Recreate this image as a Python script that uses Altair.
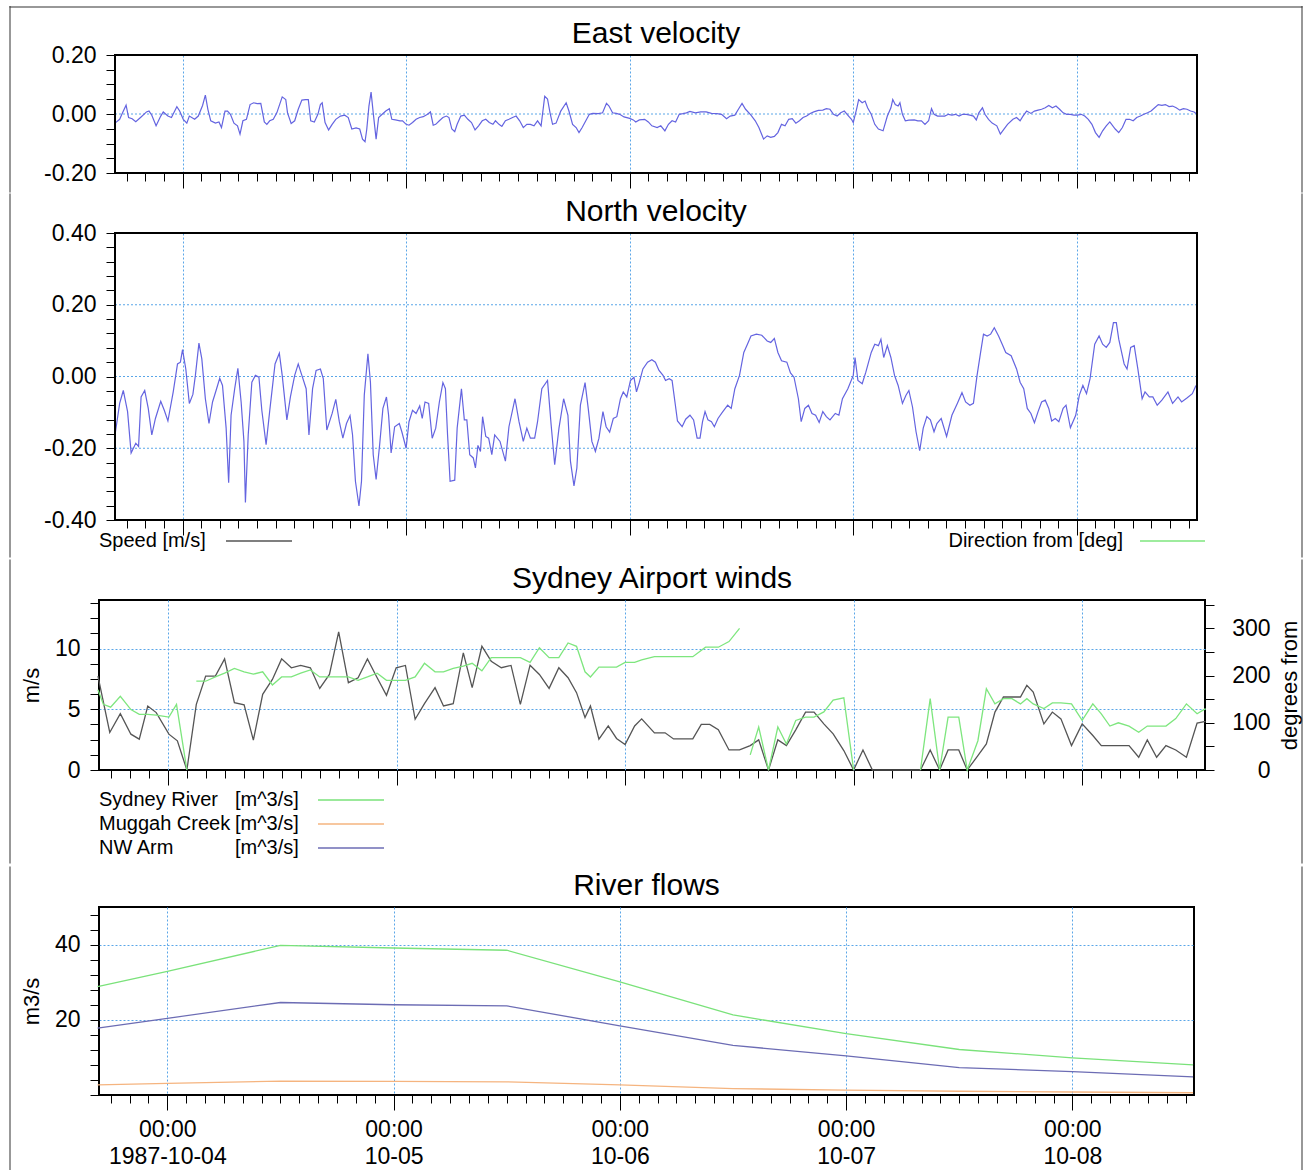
import json
import altair as alt
import numpy as np
import pandas as pd

FONT = "Liberation Sans"

# ---------------- data (hours after 1987-10-04 00:00 UTC) ----------------
east_h = [-7.25,-6.75,-6.44,-6.06,-5.79,-5.41,-5.02,-4.45,-3.87,-3.60,
          -3.30,-2.84,-2.34,-2.07,-1.57,-1.19,-0.61,-0.31,0.08,0.46,
          0.73,1.30,1.69,2.15,2.45,2.72,3.03,3.53,3.91,4.18,
          4.56,4.83,5.14,5.52,5.90,6.17,6.48,6.86,7.25,7.63,
          8.01,8.40,8.78,9.05,9.36,9.74,10.12,10.70,11.08,11.27,
          11.66,12.04,12.42,12.81,13.19,13.50,13.76,14.15,14.53,14.80,
          14.99,15.30,15.68,16.06,16.45,16.95,17.41,17.79,18.17,18.63,
          19.02,19.32,19.59,19.78,20.01,20.24,20.47,20.78,21.05,21.43,
          21.82,22.20,22.47,22.85,23.35,23.62,24.00,24.31,24.69,25.07,
          25.46,25.84,26.30,26.61,26.91,27.18,27.57,27.95,28.33,28.60,
          28.91,29.22,29.48,29.87,30.25,30.63,31.02,31.40,31.78,32.17,
          32.55,32.93,33.32,33.59,33.97,34.28,34.66,35.04,35.43,35.81,
          36.19,36.58,36.96,37.34,37.73,38.11,38.49,38.88,39.18,39.45,
          39.72,40.10,40.60,41.18,41.48,41.87,42.25,42.56,42.90,43.29,
          43.67,44.05,44.63,45.09,45.51,45.78,46.16,46.55,46.93,47.39,
          48.00,48.39,48.65,49.04,49.61,50.00,50.38,50.95,51.34,
          51.78,52.16,52.55,52.93,53.32,53.70,54.09,54.47,55.05,55.63,
          56.21,56.78,57.36,57.86,58.40,58.79,59.29,59.67,60.06,60.44,
          61.02,61.48,61.87,62.37,62.76,63.14,63.53,63.91,64.30,64.68,
          65.07,65.45,65.84,66.22,66.61,66.99,67.38,67.76,68.26,68.73,
          69.11,69.50,69.88,70.27,70.65,71.04,71.50,71.81,72.00,72.39,
          72.58,72.96,73.27,73.54,73.93,74.31,74.70,75.20,75.66,76.04,
          76.24,76.51,76.82,77.01,77.28,77.59,77.97,78.55,78.93,79.32,
          79.70,80.09,80.40,80.67,81.05,81.44,81.82,82.21,82.59,82.98,
          83.36,83.75,84.13,84.52,84.90,85.21,85.48,85.87,86.14,86.52,
          86.91,87.41,87.79,88.18,88.56,89.14,89.53,89.91,90.22,90.61,
          91.07,91.45,91.84,92.22,92.61,92.99,93.38,93.76,94.15,94.53,
          94.92,95.30,95.69,96.08,96.46,96.85,97.23,97.62,98.00,98.39,
          98.77,99.16,99.54,100.12,100.50,100.89,101.28,101.66,102.05,102.43,
          102.82,103.20,103.59,103.97,104.36,104.74,105.13,105.51,105.90,106.28,
          106.67,107.05,107.44,107.82,108.21,108.59,108.79]
east_v = [-0.031,-0.018,0.004,0.030,-0.012,-0.016,-0.026,-0.010,0.007,0.010,
          -0.004,-0.040,-0.007,0.007,-0.007,-0.012,0.025,0.010,-0.018,-0.031,
          -0.007,-0.018,-0.007,0.029,0.064,0.016,-0.023,-0.031,-0.027,-0.046,
          0.010,0.010,-0.001,-0.031,-0.040,-0.068,-0.023,-0.018,0.032,0.038,
          0.035,0.036,-0.027,-0.035,-0.023,-0.018,0.004,0.058,0.049,0.004,
          -0.032,-0.023,0.016,0.047,0.049,0.049,-0.023,-0.027,-0.001,0.032,
          0.038,-0.029,-0.054,-0.035,-0.018,-0.007,-0.004,-0.012,-0.051,-0.047,
          -0.051,-0.085,-0.094,-0.051,0.027,0.074,0.004,-0.085,-0.012,-0.001,
          0.010,0.018,-0.018,-0.020,-0.023,-0.023,-0.035,-0.038,-0.029,-0.018,
          -0.012,-0.009,-0.001,0.007,-0.038,-0.035,-0.023,-0.012,-0.007,-0.012,
          -0.051,-0.060,-0.035,-0.007,-0.004,-0.018,-0.029,-0.054,-0.040,-0.023,
          -0.018,-0.029,-0.035,-0.023,-0.035,-0.042,-0.023,-0.018,-0.012,-0.007,
          -0.023,-0.046,-0.035,-0.035,-0.040,-0.023,-0.040,0.060,0.051,0.004,
          -0.035,-0.031,0.010,0.038,0.010,-0.035,-0.046,-0.063,-0.046,-0.023,
          -0.001,0.002,0.001,0.004,0.036,0.027,0.004,0.002,-0.001,-0.010,
          -0.015,-0.020,-0.027,-0.020,-0.018,-0.027,-0.040,-0.046,-0.040,
          -0.057,-0.035,-0.023,-0.027,-0.001,0.001,0.004,0.009,0.004,0.007,
          0.007,0.002,0.001,-0.001,-0.016,-0.007,-0.004,0.016,0.036,0.016,
          -0.004,-0.023,-0.046,-0.085,-0.074,-0.079,-0.076,-0.063,-0.035,-0.040,
          -0.018,-0.016,-0.031,-0.023,-0.012,-0.007,0.002,0.007,0.012,0.013,
          0.018,0.016,-0.001,-0.007,0.004,0.010,-0.007,-0.018,-0.029,0.021,
          0.049,0.038,0.044,0.021,-0.001,-0.035,-0.051,-0.057,-0.007,0.021,
          0.049,0.032,0.027,0.038,-0.001,-0.023,-0.021,-0.020,-0.023,-0.023,
          -0.035,-0.023,0.018,-0.001,-0.007,-0.007,-0.007,-0.001,-0.004,-0.001,
          -0.007,-0.001,-0.001,-0.004,-0.007,-0.020,0.004,0.021,-0.001,-0.018,
          -0.031,-0.040,-0.068,-0.051,-0.035,-0.018,-0.012,-0.023,-0.007,0.010,
          0.002,0.010,0.013,0.016,0.021,0.029,0.021,0.027,0.016,0.004,
          -0.001,-0.001,-0.004,-0.004,-0.001,-0.007,-0.018,-0.035,-0.063,-0.079,
          -0.057,-0.040,-0.027,-0.051,-0.063,-0.046,-0.018,-0.018,-0.023,-0.012,
          -0.007,-0.001,0.004,0.010,0.021,0.032,0.029,0.032,0.025,0.027,
          0.021,0.013,0.018,0.016,0.010,0.007,0.002]

north_h = [-7.25,-6.75,-6.36,-5.90,-5.52,-5.02,-4.72,-4.45,-4.06,-3.68,
           -3.30,-2.91,-2.34,-1.96,-1.57,-1.00,-0.54,-0.23,0.00,0.35,
           0.73,1.11,1.38,1.76,2.07,2.45,2.84,3.22,3.60,3.99,
           4.29,4.68,4.95,5.21,5.60,5.94,6.29,6.59,6.75,7.05,
           7.44,7.82,8.20,8.51,8.97,9.35,9.93,10.39,10.70,11.20,
           11.58,12.04,12.42,12.81,13.27,13.57,13.96,14.34,14.80,15.11,
           15.49,16.06,16.45,16.83,17.21,17.60,17.98,18.25,18.56,18.94,
           19.21,19.51,19.90,20.17,20.47,20.78,21.16,21.51,21.89,22.12,
           22.39,22.77,23.27,23.54,24.00,24.31,24.69,25.07,25.46,25.73,
           26.03,26.42,26.80,27.18,27.57,27.95,28.22,28.45,28.72,29.22,
           29.48,29.94,30.25,30.52,30.83,31.21,31.44,31.71,31.98,32.21,
           32.55,32.86,33.20,33.51,34.08,34.66,35.04,35.69,36.12,36.58,
           36.96,37.34,37.80,38.11,38.57,39.18,39.57,39.95,40.41,40.91,
           41.37,41.64,42.02,42.33,42.71,43.21,43.55,43.94,44.32,44.70,
           45.13,45.47,45.85,46.24,46.62,47.01,47.31,47.69,48.08,48.46,
           48.73,49.04,49.42,49.92,50.38,50.76,51.15,
           51.58,51.85,52.24,52.55,52.86,53.13,53.63,54.01,54.47,54.86,
           55.24,55.55,55.82,56.09,56.40,56.78,57.09,57.48,57.94,58.52,
           58.90,59.29,59.79,60.25,60.64,61.02,61.60,62.18,62.76,63.14,
           63.53,63.91,64.30,64.87,65.26,65.64,66.11,66.41,66.80,67.19,
           67.57,67.96,68.34,68.73,69.11,69.50,70.07,70.46,70.84,71.42,
           72.00,72.19,72.50,72.96,73.35,73.93,74.31,74.70,74.97,75.27,
           75.66,76.04,76.43,76.82,77.28,77.66,77.97,78.36,78.74,79.13,
           79.51,79.90,80.28,80.67,80.98,81.44,82.02,82.59,83.17,83.67,
           84.06,84.52,84.90,85.29,85.67,85.98,86.37,86.75,87.14,87.60,
           87.99,88.37,88.95,89.53,89.91,90.30,90.68,91.07,91.45,91.84,
           92.22,92.61,92.99,93.30,93.69,94.07,94.53,94.84,95.31,95.88,
           96.27,96.65,97.04,97.42,97.92,98.39,98.77,99.16,99.54,99.93,
           100.24,100.50,101.08,101.39,101.78,102.16,102.55,103.01,103.32,103.78,
           104.16,104.63,105.13,105.78,106.28,106.86,107.25,107.82,108.40,108.79]
north_v = [-0.163,-0.075,-0.039,-0.098,-0.213,-0.186,-0.195,-0.057,-0.039,-0.089,
           -0.163,-0.117,-0.069,-0.094,-0.124,-0.043,0.035,0.040,0.075,0.021,
           -0.075,-0.050,0.003,0.093,0.049,-0.062,-0.131,-0.071,-0.039,-0.005,
           -0.025,-0.144,-0.296,-0.108,-0.034,0.023,-0.071,-0.181,-0.351,-0.163,
           -0.016,0.003,-0.002,-0.094,-0.190,-0.098,0.035,0.065,0.003,-0.121,
           -0.057,0.003,0.035,0.003,-0.034,-0.163,-0.034,0.017,0.021,-0.006,
           -0.149,-0.103,-0.064,-0.126,-0.172,-0.131,-0.109,-0.163,-0.292,-0.361,
           -0.292,-0.052,0.063,-0.016,-0.218,-0.287,-0.190,-0.089,-0.057,-0.108,
           -0.213,-0.140,-0.131,-0.154,-0.200,-0.126,-0.094,-0.103,-0.082,-0.117,
           -0.071,-0.075,-0.172,-0.144,-0.071,-0.017,-0.034,-0.163,-0.292,-0.289,
           -0.144,-0.034,-0.121,-0.121,-0.218,-0.227,-0.255,-0.192,-0.209,-0.112,
           -0.167,-0.172,-0.218,-0.163,-0.181,-0.236,-0.140,-0.062,-0.126,-0.181,
           -0.144,-0.172,-0.172,-0.126,-0.034,-0.011,-0.135,-0.246,-0.144,-0.062,
           -0.108,-0.236,-0.305,-0.255,-0.080,-0.017,-0.089,-0.181,-0.209,-0.172,
           -0.098,-0.140,-0.155,-0.117,-0.112,-0.062,-0.043,-0.057,-0.011,-0.002,
           -0.043,-0.016,0.021,0.040,0.047,0.040,0.017,
           0.003,-0.011,-0.006,-0.011,-0.071,-0.124,-0.140,-0.119,-0.108,-0.121,
           -0.172,-0.172,-0.126,-0.098,-0.121,-0.126,-0.140,-0.117,-0.100,-0.080,
           -0.089,-0.034,0.003,0.067,0.090,0.113,0.118,0.115,0.099,0.095,
           0.106,0.067,0.044,0.040,0.010,-0.002,-0.062,-0.126,-0.089,-0.080,
           -0.103,-0.108,-0.128,-0.098,-0.112,-0.121,-0.103,-0.108,-0.062,-0.034,
           0.003,0.053,-0.011,-0.020,0.012,0.067,0.090,0.086,0.104,0.053,
           0.086,0.053,0.003,-0.025,-0.075,-0.052,-0.039,-0.085,-0.154,-0.207,
           -0.144,-0.112,-0.121,-0.154,-0.131,-0.117,-0.167,-0.108,-0.075,-0.045,
           -0.071,-0.080,-0.075,0.003,0.067,0.118,0.113,0.118,0.136,0.113,
           0.090,0.067,0.058,0.021,-0.016,-0.034,-0.089,-0.103,-0.129,-0.098,
           -0.071,-0.066,-0.089,-0.124,-0.117,-0.126,-0.089,-0.080,-0.143,-0.108,
           -0.052,-0.025,-0.048,-0.006,0.090,0.113,0.090,0.081,0.095,0.150,
           0.150,0.104,0.035,0.021,0.081,0.086,0.021,-0.062,-0.043,-0.057,
           -0.057,-0.080,-0.066,-0.043,-0.075,-0.057,-0.071,-0.060,-0.048,-0.025]

speed_h = [-7.36,-6.12,-5.01,-3.90,-3.02,-2.13,-1.24,0.09,0.98,1.98,
           2.97,3.95,4.97,5.94,6.97,7.99,8.96,9.94,10.96,11.93,
           12.95,13.93,14.95,15.93,16.95,17.92,18.94,19.96,20.94,21.96,
           22.94,23.96,24.93,25.95,26.93,28.04,28.93,29.95,31.01,31.94,
           32.96,33.94,35.00,36.02,37.00,38.02,39.00,40.02,41.04,42.01,
           42.90,43.79,44.36,45.25,46.23,47.10,48.00,49.00,49.74,51.08,
           52.20,53.09,53.99,55.11,56.00,56.89,57.79,58.91,60.02,61.14,
           62.03,63.06,64.04,64.94,65.92,66.95,67.84,68.87,69.85,70.97,
           72.00,72.98,73.97,75.0,76.0,77.0,78.0,79.02,80.04,81.03,
           81.92,83.04,83.93,85.05,85.94,86.84,87.73,88.63,89.52,90.19,
           90.86,91.98,92.87,93.77,94.88,96.00,97.12,98.01,98.91,99.80,
           100.92,101.94,102.84,103.82,104.80,105.83,106.95,108.07,108.96]
speed_v = [7.73,3.09,4.64,2.95,2.54,5.27,4.73,2.95,2.40,0.00,
           5.41,7.73,7.73,9.15,5.55,5.36,2.46,6.23,7.46,9.15,
           8.42,8.61,8.42,6.72,7.87,11.37,7.19,7.60,9.15,7.60,
           6.15,8.42,8.61,4.18,5.46,6.78,5.27,5.46,9.64,6.78,
           10.19,8.96,8.42,8.61,5.41,8.63,7.87,6.72,8.42,7.60,
           6.37,4.32,5.27,2.54,3.63,2.60,2.10,3.63,4.21,3.06,
           3.06,2.56,2.56,2.56,3.75,3.75,3.31,1.65,1.65,2.01,
           2.48,0.00,2.48,2.01,3.31,4.77,4.77,3.80,2.98,1.60,
           0.00,1.65,0.00,0.0,0.0,0.0,0.0,0.00,1.65,0.00,
           1.65,1.65,0.00,1.18,2.15,4.77,6.01,6.01,6.01,6.97,
           6.42,3.80,4.77,4.21,2.01,3.80,2.84,2.01,2.01,2.01,
           2.01,1.05,2.48,1.05,2.01,1.65,1.05,3.86,4.00]

# wind direction, in separate unbroken segments
dir_h = [
    [-7.36,-6.79,-6.03,-5.01,-3.90,-3.02,-2.13,-1.24,0.09,0.89,1.98],
    [2.97,3.95,4.97,5.94,6.97,7.99,8.96,9.94,10.96,11.93,
     12.95,13.93,14.95,15.93,16.95,17.92,18.94,19.96,20.94,21.96,
     22.94,23.96,24.93,25.95,26.93,28.04,28.93,29.95,31.01,31.94,
     32.96,33.94,35.00,36.02,37.00,38.02,39.00,40.02,41.04,42.01,
     42.90,43.79,44.36,45.25,46.23,47.10,48.00,49.00,49.74,51.08,
     52.42,53.77,55.11,56.45,57.79,58.91,60.02],
    [61.14,62.03,63.06,64.04,64.94,65.92,66.95,67.84,68.87,69.85,70.97,72.00],
    [79.02,80.04,81.03,81.92,83.04,83.93,85.05,85.94,86.84,87.73,
     88.63,89.52,90.19,90.86,91.98,92.87,93.77,94.88,96.00,97.12,
     98.01,98.91,99.80,100.92,101.94,102.84,103.82,104.80,105.83,106.95,
     108.07,108.96],
]
dir_v = [
    [170,139,133,156,128,118,118,116,112,139,0],
    [188,188,197,205,215,208,203,208,180,197,
     197,205,212,197,197,197,197,190,197,205,
     190,190,190,197,226,208,208,215,220,226,
     210,238,238,238,238,228,259,238,238,269,
     262,208,197,218,218,218,228,228,233,240,
     240,240,240,260,260,272,300],
    [32,91,0,91,55,105,112,112,123,148,153,0],
    [0,151,0,112,112,0,62,172,140,151,
     151,140,151,140,130,142,142,140,105,140,
     119,93,100,93,80,93,93,93,109,140,
     119,130],
]

flow_h = [-7.4, 0, 12, 24, 36, 48, 60, 72, 84, 96, 108.8]
flow_names = ["Sydney River", "Muggah Creek", "NW Arm"]
flow_values = [
    [28.8, 32.9, 39.8, 39.1, 38.5, 30.1, 21.3, 16.3, 12.1, 9.9, 8.0],
    [2.7, 3.1, 3.7, 3.6, 3.5, 2.7, 1.7, 1.3, 1.0, 0.8, 0.6],
    [17.8, 20.4, 24.6, 24.0, 23.7, 18.4, 13.2, 10.4, 7.3, 6.2, 4.8],
]
flow_unit = "[m^3/s]"

titles = ["East velocity", "North velocity", "Sydney Airport winds", "River flows"]
speed_label = "Speed [m/s]"
dir_label = "Direction from [deg]"
hour_label = "00:00"
day_labels = ["1987-10-04", "10-05", "10-06", "10-07", "10-08"]

# ---------------- style ----------------
VEL_COLOR = "#6464e0"
SPEED_COLOR = "#555555"
DIR_COLOR = "#7ee67e"
FLOW_COLORS = ["#7ae27a", "#f5b47f", "#6c6cb4"]
GRID_COLOR = "#5aa6e8"
BORDER_COLOR = "#333333"
TITLE_SIZE = 30
LEGEND_SIZE = 20

T0 = pd.Timestamp("1987-10-04T00:00:00", tz="UTC")


def stamp(hours):
    return [(T0 + pd.Timedelta(hours=float(h))).strftime("%Y-%m-%dT%H:%M:%SZ") for h in hours]


east_df = pd.DataFrame({"time": stamp(east_h), "v": east_v})
north_df = pd.DataFrame({"time": stamp(north_h), "v": north_v})
speed_df = pd.DataFrame({"time": stamp(speed_h), "v": speed_v})
dir_df = pd.concat([pd.DataFrame({"time": stamp(h), "d": v, "seg": i})
                    for i, (h, v) in enumerate(zip(dir_h, dir_v))], ignore_index=True)
flow_df = pd.concat([pd.DataFrame({"time": stamp(flow_h), "q": vals, "name": n})
                     for n, vals in zip(flow_names, flow_values)], ignore_index=True)

X_DOMAIN = [alt.DateTime(year=1987, month=10, date=3, hours=16, minutes=45, utc=True),
            alt.DateTime(year=1987, month=10, date=8, hours=12, minutes=54, utc=True)]
tick_times = pd.date_range("1987-10-03 18:00", "1987-10-08 12:00", freq="2h", tz="UTC")
TICK_MS = [int(t.value // 10**6) for t in tick_times]
MID = "utchours(datum.value) == 0"


def cond(test, a, b):
    return {"condition": {"test": test, "value": a}, "value": b}


DAY_EXPR = (f"{MID} ? ['{hour_label}', {json.dumps(day_labels)}[utcdate(datum.value) - 4]] : ''")


def x_enc(with_labels=False, rng=None):
    kw = dict(values=TICK_MS, tickSize=cond(MID, 15, 8), tickColor="black", tickWidth=1,
              grid=True, gridOpacity=cond(MID, 1, 0), gridColor=GRID_COLOR, gridDash=[2, 2],
              gridWidth=1, domain=False, title=None, labelOverlap=False, labelFlush=False)
    if with_labels:
        kw.update(labels=True, labelExpr=DAY_EXPR, labelPadding=8, labelLineHeight=27,
                  labelBaseline="top", labelAlign="center")
    else:
        kw.update(labels=False)
    sc = dict(type="utc", domain=X_DOMAIN)
    if rng:
        sc["range"] = rng
    return alt.X("time:T", scale=alt.Scale(**sc), axis=alt.Axis(**kw))


def y_axis(values, label_test, label_expr, min_extent, title=None, grid_test=None, **extra):
    kw = dict(values=values, labelExpr=f"({label_test}) ? {label_expr} : ''", tickSize=9,
              tickColor="black", domain=False, labelPadding=10, labelOverlap=False,
              labelFlush=False, minExtent=min_extent, title=title, titlePadding=0)
    if grid_test:
        kw.update(grid=True, gridOpacity=cond(grid_test, 1, 0), gridColor=GRID_COLOR,
                  gridDash=[2, 2], gridWidth=1)
    else:
        kw.update(grid=False)
    kw.update(extra)
    return alt.Axis(**kw)


SIGNED2 = "(datum.value < -0.0001 ? '-' : '') + format(abs(datum.value), '.2f')"
VEL_TEST = "abs(round(datum.value*100)) % 20 == 0"


def text_mark(text, x, y, align="left", size=LEGEND_SIZE):
    return alt.Chart(pd.DataFrame({"t": [text]})).mark_text(
        align=align, baseline="middle", font=FONT, fontSize=size, color="black"
    ).encode(text="t:N", x=alt.value(x), y=alt.value(y))


def legend_line(color, x1, x2, y):
    return alt.Chart(pd.DataFrame({"t": [0]})).mark_rule(color=color, strokeWidth=1.5).encode(
        x=alt.value(x1), x2=alt.value(x2), y=alt.value(y))


# outer figure border: thin filled strips (left/right per panel, top in the first panel)
BX_L, BX_R = -89, 1203


def strip(x1, x2, y1, y2):
    return alt.Chart(pd.DataFrame({"t": [0]})).mark_rect(
        color=BORDER_COLOR, strokeWidth=0
    ).encode(x=alt.value(x1), x2=alt.value(x2), y=alt.value(y1), y2=alt.value(y2))


def border(y_top, y_bottom, with_top=False):
    layers = [strip(bx - 0.5, bx + 0.5, y_top, y_bottom) for bx in (BX_L, BX_R)]
    if with_top:
        layers.append(strip(BX_L - 0.5, BX_R + 0.5, y_top + 0.5, y_top + 1.5))
    return layers


# panel sizes (velocity panels are inset by DX inside a wider view)
DX = 16
W1, H1 = 1082, 118
W2, H2 = 1082, 287
W3, H3 = 1106, 170
W4, H4 = 1095, 188
WV = DX + W1


def velocity_panel(df, dom, ticks, grid_vals, H, title, extra_layers=()):
    y = alt.Y("v:Q", scale=alt.Scale(domain=dom, nice=False, zero=False),
              axis=y_axis(ticks, VEL_TEST, SIGNED2, 0, offset=-DX))
    x = x_enc(rng=[DX, WV])
    grid = alt.Chart(pd.DataFrame({"v": grid_vals})).mark_rule(
        color=GRID_COLOR, strokeDash=[2, 2], strokeWidth=1
    ).encode(y=y, x=alt.value(DX), x2=alt.value(WV))
    line = alt.Chart(df).mark_line(color=VEL_COLOR, strokeWidth=1.2).encode(x=x, y=y)
    frame = alt.Chart(pd.DataFrame({"t": [0]})).mark_rect(
        fillOpacity=0, stroke="black", strokeWidth=2
    ).encode(x=alt.value(DX), x2=alt.value(WV), y=alt.value(0), y2=alt.value(H))
    ttl = text_mark(title, DX + W1 / 2, -21.5, align="center", size=TITLE_SIZE)
    return alt.layer(grid, line, frame, ttl, *extra_layers).properties(
        width=WV, height=H, view=alt.ViewBackground(strokeOpacity=0))


# ---- panel 1: East velocity ----
p1_ticks = np.round(np.arange(-0.2, 0.2001, 0.05), 2).tolist()
p1 = velocity_panel(east_df, [-0.2, 0.2], p1_ticks, [0.0], H1, titles[0],
                    border(-49, H1 + 19.5, with_top=True))

# ---- panel 2: North velocity (+ wind legend below) ----
p2_ticks = np.round(np.arange(-0.4, 0.4001, 0.04), 2).tolist()
legend1 = [
    text_mark(speed_label, 0, H2 + 21),
    legend_line(SPEED_COLOR, 127, 193, H2 + 21),
    text_mark(dir_label, 1024, H2 + 21, align="right"),
    legend_line(DIR_COLOR, 1041, 1106, H2 + 21),
]
p2 = velocity_panel(north_df, [-0.4, 0.4], p2_ticks, [-0.2, 0.0, 0.2], H2, titles[1],
                    legend1 + border(-39.5, H2 + 37.5))

# ---- panel 3: Sydney Airport winds (+ river legend below) ----
p3_left_ticks = [round(1.25 * k, 2) for k in range(12)]
p3_right_ticks = list(range(0, 351, 50))
speed_line = alt.Chart(speed_df).mark_line(color=SPEED_COLOR, strokeWidth=1.3).encode(
    x=x_enc(),
    y=alt.Y("v:Q", scale=alt.Scale(domain=[0, 14], nice=False, zero=False),
            axis=y_axis(p3_left_ticks, "round(datum.value*100) % 500 == 0",
                        "format(datum.value, 'd')", 56, "m/s",
                        "round(datum.value*100) % 500 == 0 && datum.value > 0")),
)
dir_line = alt.Chart(dir_df).mark_line(color=DIR_COLOR, strokeWidth=1.3).encode(
    x=x_enc(),
    y=alt.Y("d:Q", scale=alt.Scale(domain=[0, 360], nice=False, zero=False),
            axis=y_axis(p3_right_ticks, "datum.value % 100 == 0", "format(datum.value, 'd')",
                        0, "degrees from", None, orient="right", labelAlign="right",
                        labelPadding=56, titleAngle=270, titleBaseline="top", titlePadding=9)),
    detail="seg:N",
)
legend2 = []
for i, (n, c) in enumerate(zip(flow_names, FLOW_COLORS)):
    yy = H3 + 30 + 24 * i
    legend2 += [text_mark(n, 0, yy), text_mark(flow_unit, 136, yy), legend_line(c, 219, 285, yy)]
p3 = alt.layer(
    speed_line, dir_line,
    text_mark(titles[2], W3 / 2, -21.5, align="center", size=TITLE_SIZE),
    *legend2, *border(-40.5, H3 + 93.5)
).resolve_scale(y="independent").properties(width=W3, height=H3)

# ---- panel 4: River flows ----
p4_ticks = list(range(0, 49, 4))
p4_lines = alt.Chart(flow_df).mark_line(strokeWidth=1.3).encode(
    x=x_enc(with_labels=True),
    y=alt.Y("q:Q", scale=alt.Scale(domain=[0, 50], nice=False, zero=False),
            axis=y_axis(p4_ticks, "datum.value % 20 == 0 && datum.value > 0",
                        "format(datum.value, 'd')", 56, "m3/s",
                        "datum.value % 20 == 0 && datum.value > 0")),
    color=alt.Color("name:N", scale=alt.Scale(domain=flow_names, range=FLOW_COLORS), legend=None),
)
p4 = alt.layer(
    p4_lines, text_mark(titles[3], W4 / 2, -21.5, align="center", size=TITLE_SIZE),
    *border(-40.5, H4 + 75)
).properties(width=W4, height=H4)

upper = alt.vconcat(p1, p2, spacing=0)
chart = alt.vconcat(upper, p3, p4, spacing=0).properties(
    padding={"left": 8, "top": 6, "right": 2, "bottom": 0},
    background="white",
).configure_view(
    stroke="black", strokeWidth=2
).configure_axis(
    labelFont=FONT, labelFontSize=23, labelColor="black",
    titleFont=FONT, titleFontSize=22, titleFontWeight="normal", titleColor="black",
)

chart.save("out.html", embed_options={"renderer": "svg", "actions": False})
